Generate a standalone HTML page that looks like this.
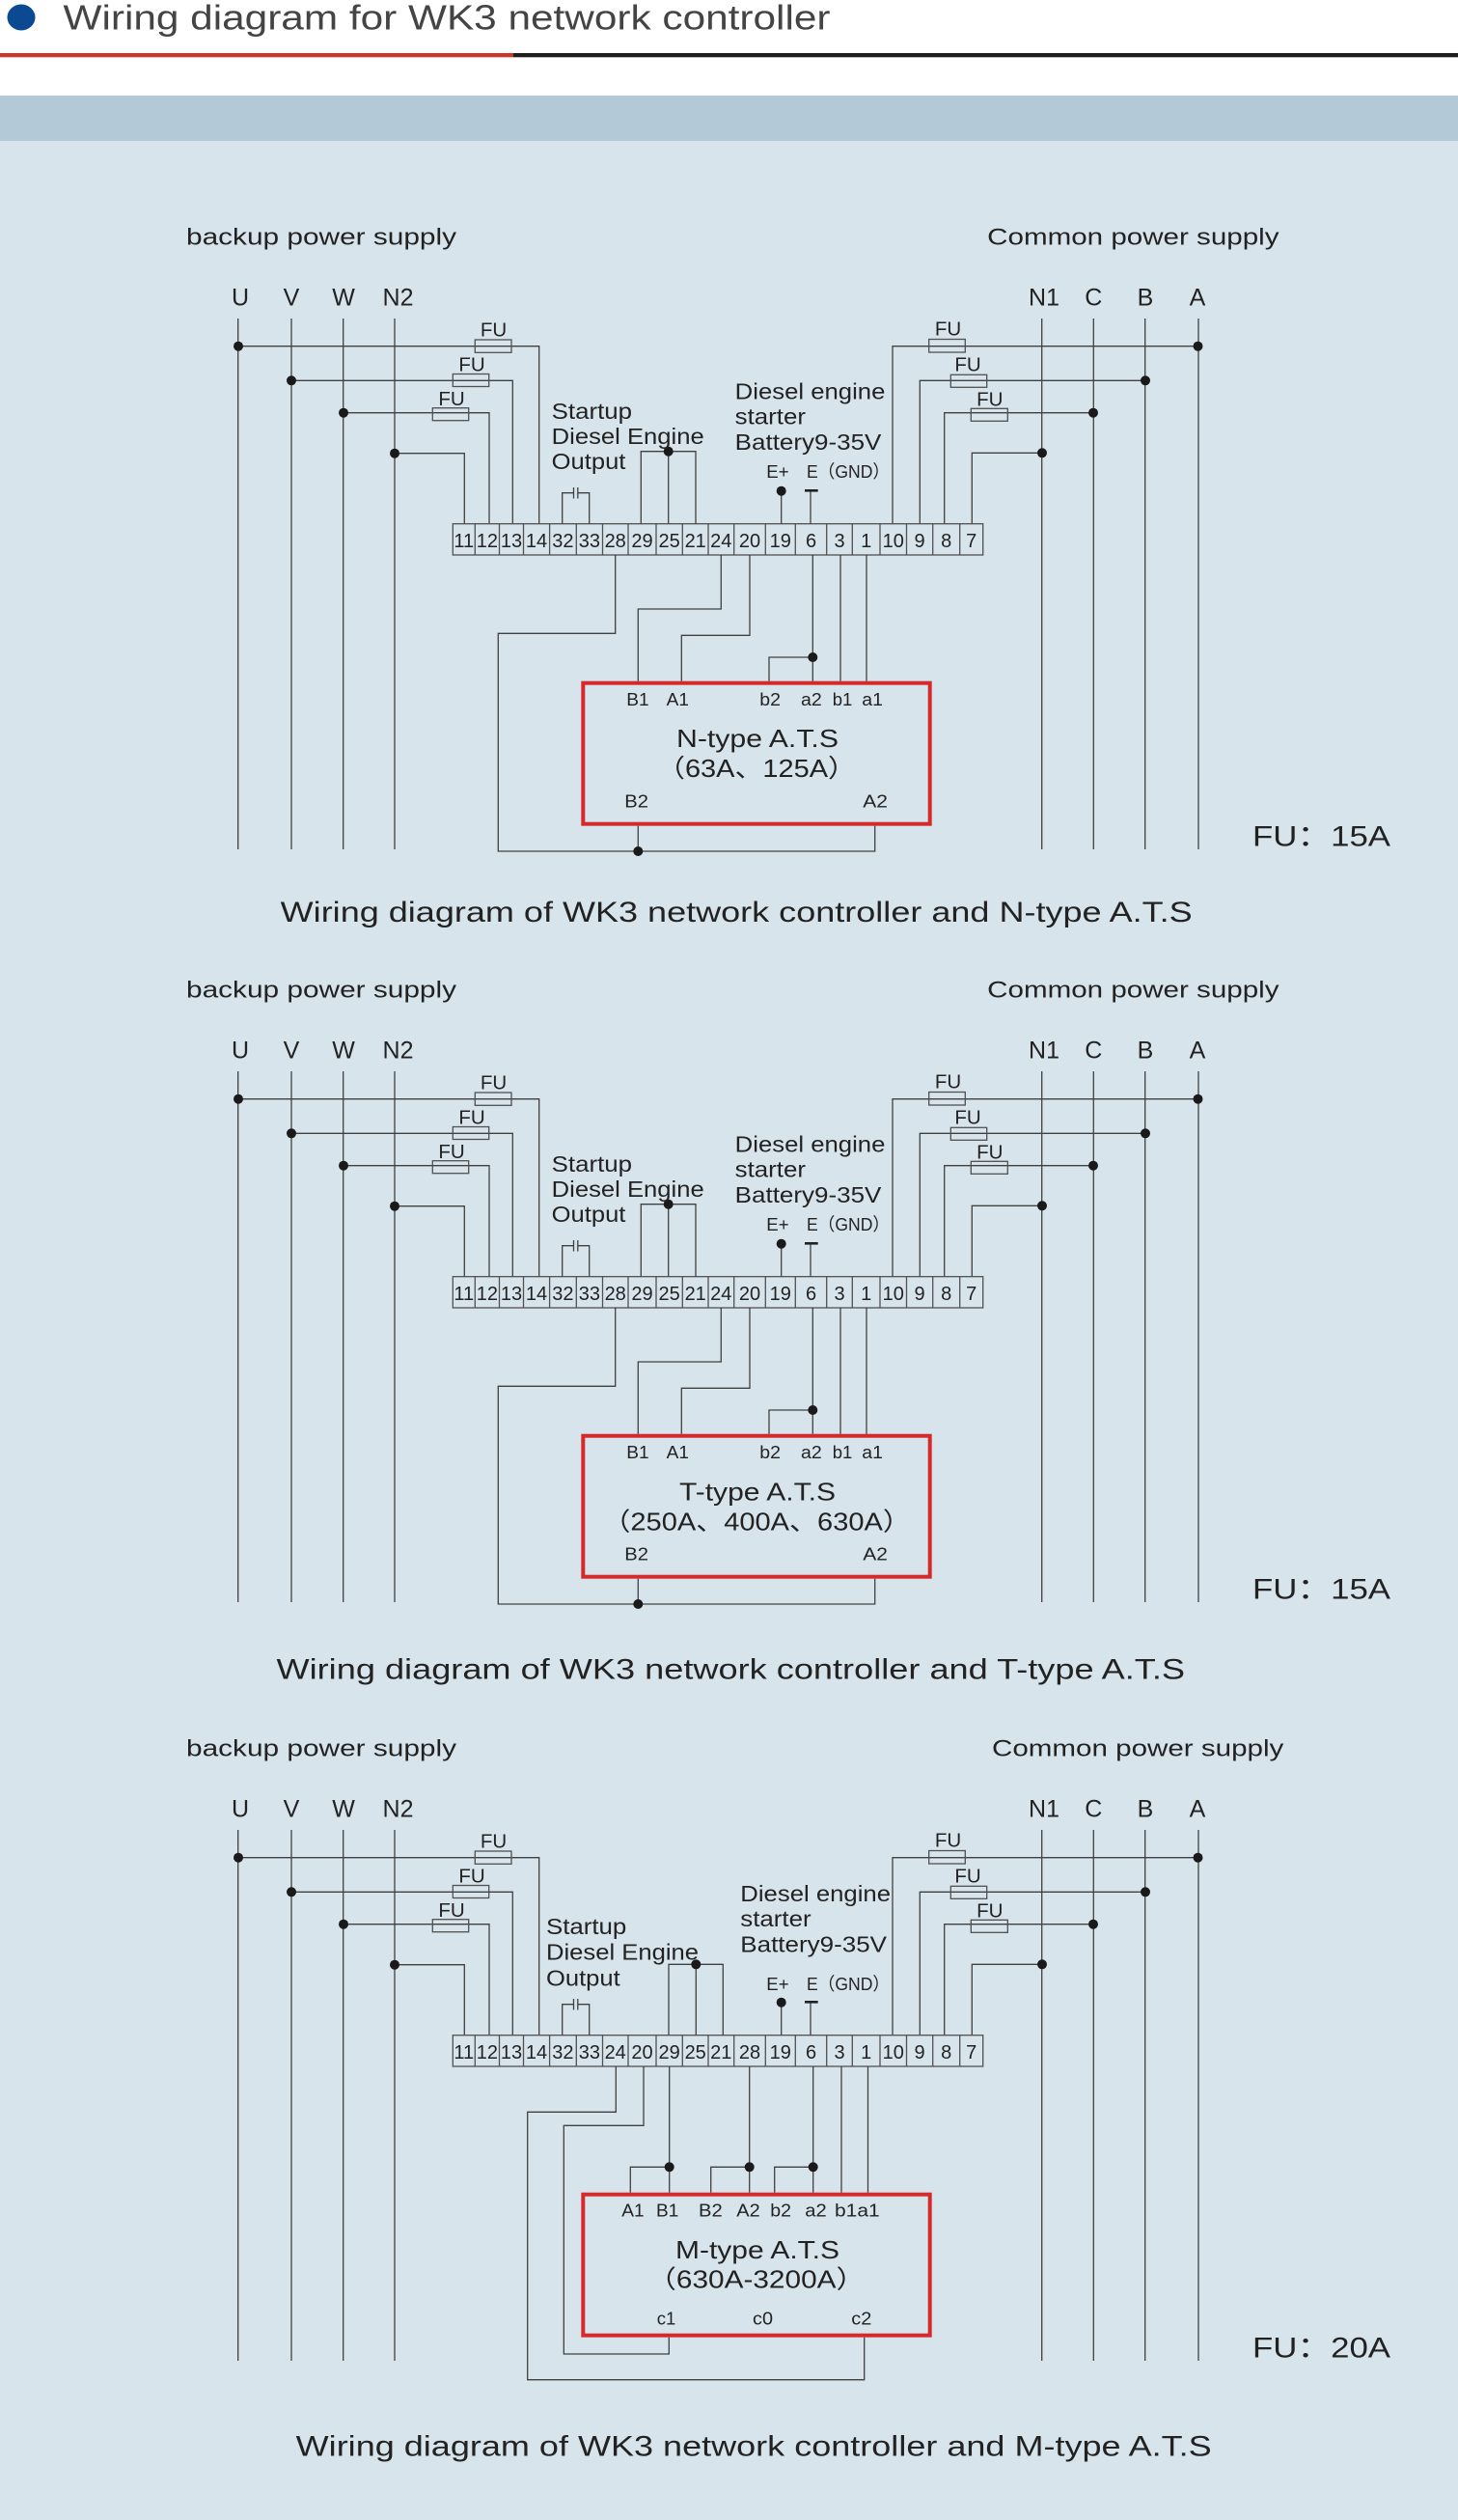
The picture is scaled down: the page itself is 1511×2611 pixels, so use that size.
<!DOCTYPE html>
<html>
<head>
<meta charset="utf-8">
<style>
html,body{margin:0;padding:0;width:1511px;height:2611px;overflow:hidden;background:#fff}
svg{display:block}
</style>
</head>
<body>
<svg width="1511" height="2611" viewBox="0 0 1511 2611" xmlns="http://www.w3.org/2000/svg">
<style>
.w{fill:none;stroke:#404040;stroke-width:1.3}
.f rect{fill:none;stroke:#505050;stroke-width:1.3}
.s{fill:none;stroke:#505050;stroke-width:1.3}
.rb{fill:none;stroke:#d52a2b;stroke-width:4}
.d{fill:#1a1a1a}
text{font-family:"Liberation Sans","Noto Sans CJK SC",sans-serif;fill:#222}
.h{font-size:24px}
.L{font-size:25px;text-anchor:middle}
.fu{font-size:20.5px;text-anchor:middle}
.lb{font-size:23px}
.sm{font-size:18.5px}
.n{font-size:20px;text-anchor:middle}
.bt{font-size:26px}
.big{font-size:30px}
</style>

<!-- page background -->
<rect x="0" y="0" width="1511" height="99" fill="#ffffff"/>
<rect x="0" y="99" width="1511" height="47" fill="#b4c9d7"/>
<rect x="0" y="146" width="1511" height="2465" fill="#d8e4ec"/>

<!-- header -->
<ellipse cx="22" cy="18" rx="14.5" ry="13.5" fill="#0b4a93"/>
<text x="65.5" y="30.7" textLength="795" lengthAdjust="spacingAndGlyphs" style="font-size:36px;fill:#444">Wiring diagram for WK3 network controller</text>
<rect x="0" y="55" width="532" height="4.3" fill="#c9372c"/>
<rect x="532" y="55" width="979" height="4.3" fill="#1e1e1e"/>

<!-- ================= DIAGRAM 1 ================= -->
<g>
<text class="h" x="193" y="253.3" textLength="280" lengthAdjust="spacingAndGlyphs">backup power supply</text>
<text class="h" x="1023.2" y="253.3" textLength="302.3" lengthAdjust="spacingAndGlyphs">Common power supply</text>
<g class="L"><text x="249" y="316.7">U</text><text x="302" y="316.7">V</text><text x="356" y="316.7">W</text><text x="412.5" y="316.7">N2</text><text x="1082" y="316.7">N1</text><text x="1133.3" y="316.7">C</text><text x="1187" y="316.7">B</text><text x="1241" y="316.7">A</text></g>
<path class="w" d="M246.7 330V880M302 330V880M355.7 330V880M409 330V880M1079.7 330V880M1133.3 330V880M1186.7 330V880M1242 330V880"/>
<path class="w" d="M247 358.7H558.7V542.7M302 394.3H531.3V542.7M356 427.7H507V542.7M409 469.7H481.3V542.7M1242 358.7H925V542.7M1187 394.3H953.3V542.7M1133 427.7H978.7V542.7M1080 469.3H1007.3V542.7"/>
<g class="f"><rect x="492.3" y="352" width="37.7" height="13.3"/><rect x="469.3" y="387.5" width="37.4" height="13"/><rect x="448.3" y="422.7" width="37.4" height="13"/><rect x="962.7" y="351.5" width="37.6" height="13.5"/><rect x="985.3" y="388.3" width="37.4" height="13"/><rect x="1006.3" y="423.3" width="38" height="13"/></g>
<g class="fu"><text x="511.5" y="348.3">FU</text><text x="489" y="384.3">FU</text><text x="468" y="420">FU</text><text x="982.5" y="347.7">FU</text><text x="1003" y="384.7">FU</text><text x="1025.8" y="420.7">FU</text></g>
<g class="d"><circle cx="247" cy="358.7" r="5"/><circle cx="302" cy="394.3" r="5"/><circle cx="356" cy="427.7" r="5"/><circle cx="409" cy="469.7" r="5"/><circle cx="1241.5" cy="358.7" r="5"/><circle cx="1187" cy="394.3" r="5"/><circle cx="1133" cy="427.7" r="5"/><circle cx="1080" cy="469.3" r="5"/></g>
<!-- strip -->
<rect class="s" x="469.3" y="542.7" width="549.4" height="32.3"/>
<path class="s" d="M492.3 542.7v32.3M517.5 542.7v32.3M542.5 542.7v32.3M569.6 542.7v32.3M597.3 542.7v32.3M624.5 542.7v32.3M651 542.7v32.3M680 542.7v32.3M707.3 542.7v32.3M734 542.7v32.3M760.7 542.7v32.3M793.3 542.7v32.3M824.3 542.7v32.3M856.7 542.7v32.3M883.3 542.7v32.3M912 542.7v32.3M939.5 542.7v32.3M966.7 542.7v32.3M994.7 542.7v32.3"/>
<g class="n"><text x="480.8" y="567">11</text><text x="504.9" y="567">12</text><text x="530" y="567">13</text><text x="556" y="567">14</text><text x="583.4" y="567">32</text><text x="610.9" y="567">33</text><text x="637.7" y="567">28</text><text x="665.5" y="567">29</text><text x="693.6" y="567">25</text><text x="720.7" y="567">21</text><text x="747.3" y="567">24</text><text x="777" y="567">20</text><text x="808.8" y="567">19</text><text x="840.5" y="567">6</text><text x="870" y="567">3</text><text x="897.7" y="567">1</text><text x="925.8" y="567">10</text><text x="953.1" y="567">9</text><text x="980.7" y="567">8</text><text x="1006.7" y="567">7</text></g>
<!-- capacitor -->
<path class="w" d="M582.7 542.7V510.7H594.5M598.8 510.7H610.7V542.7M594.5 505V516.5M598.8 505V516.5"/>
<!-- 29/25/21 -->
<path class="w" d="M664.3 542.7V467.7H721V542.7M692.7 467.7V542.7"/>
<circle class="d" cx="692.7" cy="467.7" r="5"/>
<!-- E+ / E -->
<path class="w" d="M809.7 508.7V542.7M840 508.3V542.7"/>
<circle class="d" cx="809.7" cy="508.7" r="5"/>
<path d="M834 508.3H847.7" stroke="#222" stroke-width="2.6"/>
<g class="lb"><text x="571.7" y="434" textLength="83.3" lengthAdjust="spacingAndGlyphs">Startup</text><text x="571.7" y="460" textLength="158" lengthAdjust="spacingAndGlyphs">Diesel Engine</text><text x="571.7" y="486" textLength="76.7" lengthAdjust="spacingAndGlyphs">Output</text></g>
<g class="lb"><text x="761.7" y="413.3" textLength="155.7" lengthAdjust="spacingAndGlyphs">Diesel engine</text><text x="761.7" y="439.3" textLength="73.3" lengthAdjust="spacingAndGlyphs">starter</text><text x="761.7" y="466" textLength="151.7" lengthAdjust="spacingAndGlyphs">Battery9-35V</text></g>
<text class="sm" x="794.3" y="495" textLength="23.3" lengthAdjust="spacingAndGlyphs">E+</text>
<text class="sm" x="836" y="495" textLength="86" lengthAdjust="spacingAndGlyphs">E（GND）</text>
<!-- lower wiring -->
<path class="w" d="M637.7 575V656.3H516.3V882H906.7V855.7M661.3 855.7V882M747.3 575V631H661.3V705.7M777 575V658.3H706.3V705.7M842.3 575V705.7M842.3 681H797V705.7M871 575V705.7M898 575V705.7"/>
<circle class="d" cx="661.3" cy="882" r="5"/>
<circle class="d" cx="842.3" cy="681" r="5"/>
<rect class="rb" x="604.3" y="707.7" width="359.4" height="146"/>
<g class="sm"><text x="649.3" y="731" textLength="23.4" lengthAdjust="spacingAndGlyphs">B1</text><text x="690.7" y="731" textLength="23.3" lengthAdjust="spacingAndGlyphs">A1</text><text x="787.3" y="731" textLength="21.7" lengthAdjust="spacingAndGlyphs">b2</text><text x="830" y="731" textLength="21.7" lengthAdjust="spacingAndGlyphs">a2</text><text x="862.7" y="731" textLength="20.6" lengthAdjust="spacingAndGlyphs">b1</text><text x="893.3" y="731" textLength="21.7" lengthAdjust="spacingAndGlyphs">a1</text><text x="647.3" y="836.7" textLength="24.7" lengthAdjust="spacingAndGlyphs">B2</text><text x="894.3" y="836.7" textLength="25.7" lengthAdjust="spacingAndGlyphs">A2</text></g>
<text class="bt" x="701" y="774" textLength="168" lengthAdjust="spacingAndGlyphs">N-type A.T.S</text>
<text class="bt" x="681" y="805" textLength="206" lengthAdjust="spacingAndGlyphs">（63A、125A）</text>
<text class="big" x="1298" y="876.7" textLength="143" lengthAdjust="spacingAndGlyphs">FU：15A</text>
<text class="big" x="290.7" y="955" textLength="945" lengthAdjust="spacingAndGlyphs">Wiring diagram of WK3 network controller and N-type A.T.S</text>
</g>

<!-- ================= DIAGRAM 2 ================= -->
<g transform="translate(0,780)">
<text class="h" x="193" y="253.3" textLength="280" lengthAdjust="spacingAndGlyphs">backup power supply</text>
<text class="h" x="1023.2" y="253.3" textLength="302.3" lengthAdjust="spacingAndGlyphs">Common power supply</text>
<g class="L"><text x="249" y="316.7">U</text><text x="302" y="316.7">V</text><text x="356" y="316.7">W</text><text x="412.5" y="316.7">N2</text><text x="1082" y="316.7">N1</text><text x="1133.3" y="316.7">C</text><text x="1187" y="316.7">B</text><text x="1241" y="316.7">A</text></g>
<path class="w" d="M246.7 330V880M302 330V880M355.7 330V880M409 330V880M1079.7 330V880M1133.3 330V880M1186.7 330V880M1242 330V880"/>
<path class="w" d="M247 358.7H558.7V542.7M302 394.3H531.3V542.7M356 427.7H507V542.7M409 469.7H481.3V542.7M1242 358.7H925V542.7M1187 394.3H953.3V542.7M1133 427.7H978.7V542.7M1080 469.3H1007.3V542.7"/>
<g class="f"><rect x="492.3" y="352" width="37.7" height="13.3"/><rect x="469.3" y="387.5" width="37.4" height="13"/><rect x="448.3" y="422.7" width="37.4" height="13"/><rect x="962.7" y="351.5" width="37.6" height="13.5"/><rect x="985.3" y="388.3" width="37.4" height="13"/><rect x="1006.3" y="423.3" width="38" height="13"/></g>
<g class="fu"><text x="511.5" y="348.3">FU</text><text x="489" y="384.3">FU</text><text x="468" y="420">FU</text><text x="982.5" y="347.7">FU</text><text x="1003" y="384.7">FU</text><text x="1025.8" y="420.7">FU</text></g>
<g class="d"><circle cx="247" cy="358.7" r="5"/><circle cx="302" cy="394.3" r="5"/><circle cx="356" cy="427.7" r="5"/><circle cx="409" cy="469.7" r="5"/><circle cx="1241.5" cy="358.7" r="5"/><circle cx="1187" cy="394.3" r="5"/><circle cx="1133" cy="427.7" r="5"/><circle cx="1080" cy="469.3" r="5"/></g>
<rect class="s" x="469.3" y="542.7" width="549.4" height="32.3"/>
<path class="s" d="M492.3 542.7v32.3M517.5 542.7v32.3M542.5 542.7v32.3M569.6 542.7v32.3M597.3 542.7v32.3M624.5 542.7v32.3M651 542.7v32.3M680 542.7v32.3M707.3 542.7v32.3M734 542.7v32.3M760.7 542.7v32.3M793.3 542.7v32.3M824.3 542.7v32.3M856.7 542.7v32.3M883.3 542.7v32.3M912 542.7v32.3M939.5 542.7v32.3M966.7 542.7v32.3M994.7 542.7v32.3"/>
<g class="n"><text x="480.8" y="567">11</text><text x="504.9" y="567">12</text><text x="530" y="567">13</text><text x="556" y="567">14</text><text x="583.4" y="567">32</text><text x="610.9" y="567">33</text><text x="637.7" y="567">28</text><text x="665.5" y="567">29</text><text x="693.6" y="567">25</text><text x="720.7" y="567">21</text><text x="747.3" y="567">24</text><text x="777" y="567">20</text><text x="808.8" y="567">19</text><text x="840.5" y="567">6</text><text x="870" y="567">3</text><text x="897.7" y="567">1</text><text x="925.8" y="567">10</text><text x="953.1" y="567">9</text><text x="980.7" y="567">8</text><text x="1006.7" y="567">7</text></g>
<path class="w" d="M582.7 542.7V510.7H594.5M598.8 510.7H610.7V542.7M594.5 505V516.5M598.8 505V516.5"/>
<path class="w" d="M664.3 542.7V467.7H721V542.7M692.7 467.7V542.7"/>
<circle class="d" cx="692.7" cy="467.7" r="5"/>
<path class="w" d="M809.7 508.7V542.7M840 508.3V542.7"/>
<circle class="d" cx="809.7" cy="508.7" r="5"/>
<path d="M834 508.3H847.7" stroke="#222" stroke-width="2.6"/>
<g class="lb"><text x="571.7" y="434" textLength="83.3" lengthAdjust="spacingAndGlyphs">Startup</text><text x="571.7" y="460" textLength="158" lengthAdjust="spacingAndGlyphs">Diesel Engine</text><text x="571.7" y="486" textLength="76.7" lengthAdjust="spacingAndGlyphs">Output</text></g>
<g class="lb"><text x="761.7" y="413.3" textLength="155.7" lengthAdjust="spacingAndGlyphs">Diesel engine</text><text x="761.7" y="439.3" textLength="73.3" lengthAdjust="spacingAndGlyphs">starter</text><text x="761.7" y="466" textLength="151.7" lengthAdjust="spacingAndGlyphs">Battery9-35V</text></g>
<text class="sm" x="794.3" y="495" textLength="23.3" lengthAdjust="spacingAndGlyphs">E+</text>
<text class="sm" x="836" y="495" textLength="86" lengthAdjust="spacingAndGlyphs">E（GND）</text>
<path class="w" d="M637.7 575V656.3H516.3V882H906.7V855.7M661.3 855.7V882M747.3 575V631H661.3V705.7M777 575V658.3H706.3V705.7M842.3 575V705.7M842.3 681H797V705.7M871 575V705.7M898 575V705.7"/>
<circle class="d" cx="661.3" cy="882" r="5"/>
<circle class="d" cx="842.3" cy="681" r="5"/>
<rect class="rb" x="604.3" y="707.7" width="359.4" height="146"/>
<g class="sm"><text x="649.3" y="731" textLength="23.4" lengthAdjust="spacingAndGlyphs">B1</text><text x="690.7" y="731" textLength="23.3" lengthAdjust="spacingAndGlyphs">A1</text><text x="787.3" y="731" textLength="21.7" lengthAdjust="spacingAndGlyphs">b2</text><text x="830" y="731" textLength="21.7" lengthAdjust="spacingAndGlyphs">a2</text><text x="862.7" y="731" textLength="20.6" lengthAdjust="spacingAndGlyphs">b1</text><text x="893.3" y="731" textLength="21.7" lengthAdjust="spacingAndGlyphs">a1</text><text x="647.3" y="836.7" textLength="24.7" lengthAdjust="spacingAndGlyphs">B2</text><text x="894.3" y="836.7" textLength="25.7" lengthAdjust="spacingAndGlyphs">A2</text></g>
<text class="bt" x="704" y="774.3" textLength="162" lengthAdjust="spacingAndGlyphs">T-type A.T.S</text>
<text class="bt" x="624.4" y="805.7" textLength="319.5" lengthAdjust="spacingAndGlyphs">（250A、400A、630A）</text>
<text class="big" x="1298" y="876.7" textLength="143" lengthAdjust="spacingAndGlyphs">FU：15A</text>
<text class="big" x="286.5" y="959.5" textLength="941.5" lengthAdjust="spacingAndGlyphs">Wiring diagram of WK3 network controller and T-type A.T.S</text>
</g>

<!-- ================= DIAGRAM 3 ================= -->
<g transform="translate(0,1566)">
<text class="h" x="193" y="253.3" textLength="280" lengthAdjust="spacingAndGlyphs">backup power supply</text>
<text class="h" x="1028" y="253.3" textLength="302.3" lengthAdjust="spacingAndGlyphs">Common power supply</text>
<g class="L"><text x="249" y="316.7">U</text><text x="302" y="316.7">V</text><text x="356" y="316.7">W</text><text x="412.5" y="316.7">N2</text><text x="1082" y="316.7">N1</text><text x="1133.3" y="316.7">C</text><text x="1187" y="316.7">B</text><text x="1241" y="316.7">A</text></g>
<path class="w" d="M246.7 330V880M302 330V880M355.7 330V880M409 330V880M1079.7 330V880M1133.3 330V880M1186.7 330V880M1242 330V880"/>
<path class="w" d="M247 358.7H558.7V542.7M302 394.3H531.3V542.7M356 427.7H507V542.7M409 469.7H481.3V542.7M1242 358.7H925V542.7M1187 394.3H953.3V542.7M1133 427.7H978.7V542.7M1080 469.3H1007.3V542.7"/>
<g class="f"><rect x="492.3" y="352" width="37.7" height="13.3"/><rect x="469.3" y="387.5" width="37.4" height="13"/><rect x="448.3" y="422.7" width="37.4" height="13"/><rect x="962.7" y="351.5" width="37.6" height="13.5"/><rect x="985.3" y="388.3" width="37.4" height="13"/><rect x="1006.3" y="423.3" width="38" height="13"/></g>
<g class="fu"><text x="511.5" y="348.3">FU</text><text x="489" y="384.3">FU</text><text x="468" y="420">FU</text><text x="982.5" y="347.7">FU</text><text x="1003" y="384.7">FU</text><text x="1025.8" y="420.7">FU</text></g>
<g class="d"><circle cx="247" cy="358.7" r="5"/><circle cx="302" cy="394.3" r="5"/><circle cx="356" cy="427.7" r="5"/><circle cx="409" cy="469.7" r="5"/><circle cx="1241.5" cy="358.7" r="5"/><circle cx="1187" cy="394.3" r="5"/><circle cx="1133" cy="427.7" r="5"/><circle cx="1080" cy="469.3" r="5"/></g>
<rect class="s" x="469.3" y="542.7" width="549.4" height="32.3"/>
<path class="s" d="M492.3 542.7v32.3M517.5 542.7v32.3M542.5 542.7v32.3M569.6 542.7v32.3M597.3 542.7v32.3M624.5 542.7v32.3M651 542.7v32.3M680 542.7v32.3M707.3 542.7v32.3M734 542.7v32.3M760.7 542.7v32.3M793.3 542.7v32.3M824.3 542.7v32.3M856.7 542.7v32.3M883.3 542.7v32.3M912 542.7v32.3M939.5 542.7v32.3M966.7 542.7v32.3M994.7 542.7v32.3"/>
<g class="n"><text x="480.8" y="567">11</text><text x="504.9" y="567">12</text><text x="530" y="567">13</text><text x="556" y="567">14</text><text x="583.4" y="567">32</text><text x="610.9" y="567">33</text><text x="637.7" y="567">24</text><text x="665.5" y="567">20</text><text x="693.6" y="567">29</text><text x="720.7" y="567">25</text><text x="747.3" y="567">21</text><text x="777" y="567">28</text><text x="808.8" y="567">19</text><text x="840.5" y="567">6</text><text x="870" y="567">3</text><text x="897.7" y="567">1</text><text x="925.8" y="567">10</text><text x="953.1" y="567">9</text><text x="980.7" y="567">8</text><text x="1006.7" y="567">7</text></g>
<path class="w" d="M582.7 542.7V510.7H594.5M598.8 510.7H610.7V542.7M594.5 505V516.5M598.8 505V516.5"/>
<path class="w" d="M693 542.7V469.3H749.3V542.7M721.3 469.3V542.7"/>
<circle class="d" cx="721.3" cy="469.3" r="5"/>
<path class="w" d="M809.7 508.7V542.7M840 508.3V542.7"/>
<circle class="d" cx="809.7" cy="508.7" r="5"/>
<path d="M834 508.3H847.7" stroke="#222" stroke-width="2.6"/>
<g class="lb"><text x="566" y="438" textLength="83.3" lengthAdjust="spacingAndGlyphs">Startup</text><text x="566" y="464.7" textLength="158" lengthAdjust="spacingAndGlyphs">Diesel Engine</text><text x="566" y="491.3" textLength="76.7" lengthAdjust="spacingAndGlyphs">Output</text></g>
<g class="lb"><text x="767.3" y="404" textLength="155.7" lengthAdjust="spacingAndGlyphs">Diesel engine</text><text x="767.3" y="430" textLength="73.3" lengthAdjust="spacingAndGlyphs">starter</text><text x="767.3" y="456.3" textLength="151.7" lengthAdjust="spacingAndGlyphs">Battery9-35V</text></g>
<text class="sm" x="794.3" y="496" textLength="23.3" lengthAdjust="spacingAndGlyphs">E+</text>
<text class="sm" x="836" y="496" textLength="86" lengthAdjust="spacingAndGlyphs">E（GND）</text>
<path class="w" d="M638.3 575V622.3H546.7V899.7H895.7V855.7M667 575V636.3H584.3V873H693.3V855.7M693.7 575V705.7M693.7 679.3H653.3V705.7M776.7 575V705.7M776.7 679.3H736.7V705.7M842.7 575V705.7M842.7 679.3H802.7V705.7M872 575V705.7M899.5 575V705.7"/>
<circle class="d" cx="693.7" cy="679.3" r="5"/>
<circle class="d" cx="776.7" cy="679.3" r="5"/>
<circle class="d" cx="842.7" cy="679.3" r="5"/>
<rect class="rb" x="604.3" y="707.7" width="359.4" height="146"/>
<g class="sm"><text x="644.3" y="730.7" textLength="23.4" lengthAdjust="spacingAndGlyphs">A1</text><text x="680" y="730.7" textLength="23.3" lengthAdjust="spacingAndGlyphs">B1</text><text x="724" y="730.7" textLength="24.7" lengthAdjust="spacingAndGlyphs">B2</text><text x="763.3" y="730.7" textLength="24.4" lengthAdjust="spacingAndGlyphs">A2</text><text x="798.3" y="730.7" textLength="21.7" lengthAdjust="spacingAndGlyphs">b2</text><text x="834.3" y="730.7" textLength="22.4" lengthAdjust="spacingAndGlyphs">a2</text><text x="865" y="730.7" textLength="46.7" lengthAdjust="spacingAndGlyphs">b1a1</text><text x="680.7" y="842.3" textLength="19.6" lengthAdjust="spacingAndGlyphs">c1</text><text x="780" y="842.3" textLength="21" lengthAdjust="spacingAndGlyphs">c0</text><text x="882.3" y="842.3" textLength="21" lengthAdjust="spacingAndGlyphs">c2</text></g>
<text class="bt" x="700" y="774" textLength="170" lengthAdjust="spacingAndGlyphs">M-type A.T.S</text>
<text class="bt" x="671.1" y="804.7" textLength="225.2" lengthAdjust="spacingAndGlyphs">（630A-3200A）</text>
<text class="big" x="1298" y="876.7" textLength="143" lengthAdjust="spacingAndGlyphs">FU：20A</text>
<text class="big" x="306.7" y="978.3" textLength="949" lengthAdjust="spacingAndGlyphs">Wiring diagram of WK3 network controller and M-type A.T.S</text>
</g>
</svg>
</body>
</html>
